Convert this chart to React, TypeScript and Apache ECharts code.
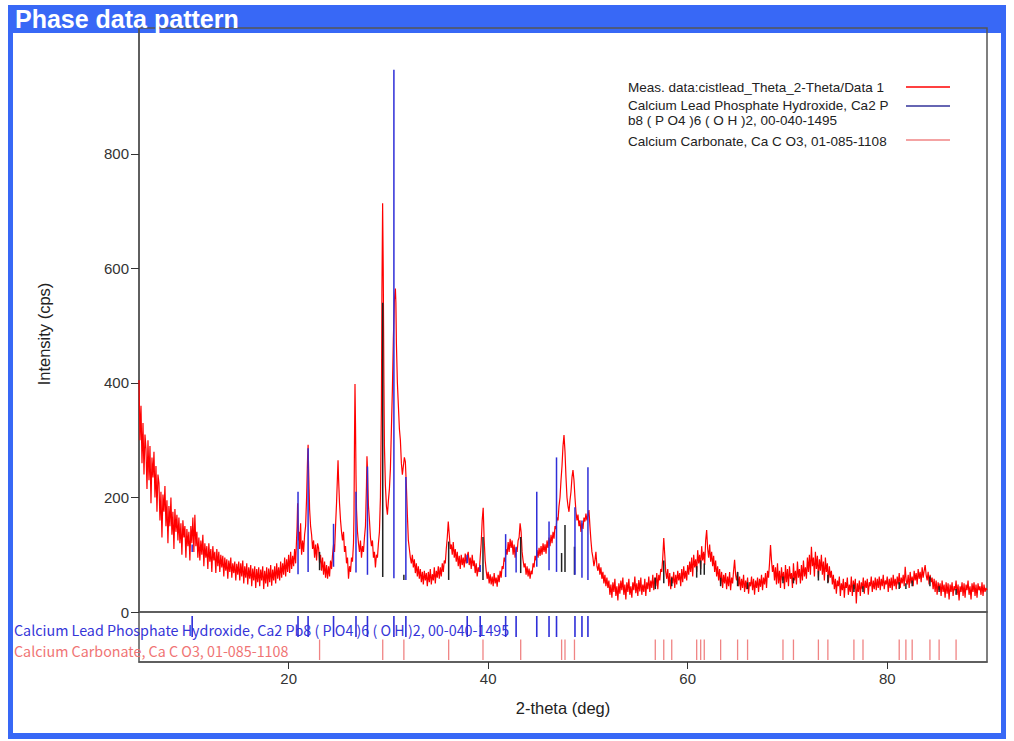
import React, { useEffect, useRef } from "react";
import * as echarts from "echarts";

const TITLE = "Phase data pattern";
const X_NAME = "2-theta (deg)";
const Y_NAME = "Intensity (cps)";
const X_MIN = 5;
const X_MAX = 90;
const Y_MAX = 1020;
const xTicks = [20, 40, 60, 80];
const yTicks = [0, 200, 400, 600, 800];

const legendMeas = "Meas. data:cistlead_Theta_2-Theta/Data 1";
const legendPhosphate = "Calcium Lead Phosphate Hydroxide, Ca2 P\nb8 ( P O4 )6 ( O H )2, 00-040-1495";
const legendCalcite = "Calcium Carbonate, Ca C O3, 01-085-1108";
const rowPhosphate = "Calcium Lead Phosphate Hydroxide, Ca2 Pb8 ( P O4 )6 ( O H )2, 00-040-1495";
const rowCalcite = "Calcium Carbonate, Ca C O3, 01-085-1108";

// measured scan, 0.1 deg step pieces: [start 2theta, counts...]
const SCAN_STEP = 0.1;
const scanLow: [number, number[]][] = [
  [5.0, [405, 300, 360, 260, 330, 240, 310, 285, 215, 300, 230, 290, 190, 270, 235, 280, 200, 255, 175, 240]],
  [7.0, [225, 160, 210, 130, 205, 175, 220, 150, 195, 120, 185, 150, 200, 135, 175, 110, 180, 140, 170, 125]],
  [9.0, [165, 120, 155, 100, 160, 130, 150, 95, 145, 115, 140, 90, 150, 120, 165, 105, 170, 115, 140, 95]],
  [11.0, [130, 90, 125, 100, 135, 80, 120, 95, 115, 75, 120, 88, 110, 70, 115, 90, 105, 68, 110, 80]],
  [13.0, [105, 70, 100, 78, 98, 62, 95, 72, 92, 58, 90, 70, 95, 60, 85, 68, 88, 55, 84, 65]],
  [15.0, [88, 55, 85, 62, 90, 50, 80, 60, 85, 48, 78, 58, 82, 45, 76, 55, 80, 42, 75, 52]],
  [17.0, [78, 45, 74, 55, 80, 40, 72, 50, 78, 44, 76, 52, 82, 46, 74, 55, 80, 50, 85, 58]],
  [19.0, [78, 55, 88, 60, 85, 65, 95, 62, 92, 70, 100, 68, 105, 75, 98, 80, 110, 85, 130]],
];
const scanPeaks = [
  [20.85, 150], [20.9, 190], [20.95, 160], [21.0, 125], [21.05, 140], [21.1, 110], [21.2, 155], [21.25, 120], [21.3, 100], [21.4, 125],
  [21.5, 105], [21.6, 135], [21.7, 150], [21.8, 200], [21.9, 270], [21.95, 292], [22.0, 250], [22.05, 215], [22.1, 180], [22.2, 150],
  [22.3, 135], [22.4, 110], [22.5, 125], [22.6, 95], [22.7, 118], [22.8, 90], [22.9, 120], [23.0, 112], [23.1, 85], [23.2, 100],
  [23.3, 72], [23.4, 95], [23.5, 65], [23.6, 88], [23.7, 60], [23.8, 82], [23.9, 58], [24.0, 80], [24.1, 62], [24.2, 90],
  [24.3, 75], [24.4, 100], [24.5, 118], [24.6, 105], [24.7, 150], [24.8, 190], [24.9, 240], [24.95, 265], [25.0, 235], [25.1, 190],
  [25.2, 160], [25.3, 140], [25.4, 125], [25.5, 140], [25.6, 105], [25.7, 115], [25.8, 85], [25.9, 95], [26.0, 58], [26.1, 80],
  [26.2, 70], [26.3, 95], [26.4, 88], [26.5, 120], [26.55, 170], [26.6, 300], [26.65, 398], [26.7, 330], [26.75, 240], [26.8, 180],
  [26.9, 140], [27.0, 120], [27.1, 105], [27.2, 125], [27.3, 95], [27.4, 115], [27.5, 105], [27.6, 130], [27.7, 150], [27.8, 220],
  [27.85, 272], [27.9, 250], [27.95, 215], [28.0, 185], [28.1, 160], [28.2, 130], [28.3, 115], [28.4, 125], [28.5, 95], [28.6, 105],
  [28.7, 78], [28.8, 100], [28.9, 95], [29.0, 120], [29.1, 140], [29.2, 200], [29.3, 360], [29.35, 560], [29.42, 714], [29.48, 600],
  [29.55, 400], [29.6, 290], [29.7, 220], [29.8, 185], [29.9, 170], [30.0, 195], [30.1, 215], [30.2, 250], [30.3, 320], [30.4, 390],
  [30.5, 480], [30.6, 545], [30.7, 565], [30.75, 540], [30.8, 470], [30.9, 400], [31.0, 360], [31.1, 320], [31.2, 300], [31.3, 260],
  [31.4, 240], [31.5, 255], [31.6, 270], [31.7, 262], [31.8, 220], [31.9, 170], [32.0, 125], [32.1, 110], [32.2, 95], [32.3, 85],
  [32.4, 100], [32.5, 78], [32.6, 92], [32.7, 68], [32.8, 85], [32.9, 62], [33.0, 80]
];
const scanMid: [number, number[]][] = [
  [33.1, [58, 75, 52, 70, 48, 72, 55, 68, 45, 70]],
  [34.1, [52, 75, 48, 66, 55, 78, 50, 72, 60, 80]],
  [35.1, [58, 78, 62, 85, 70, 90, 85, 110, 130, 158]],
  [36.1, [135, 110, 118, 100, 122, 95, 110, 88, 105, 80]],
  [37.1, [98, 75, 100, 82, 95, 78, 102, 85, 98, 105]],
  [38.1, [82, 95, 75, 100, 80, 90, 68, 85, 62, 78]],
  [39.1, [70, 95, 120, 160, 182, 125, 90, 72, 58, 70]],
  [40.1, [50, 66, 48, 62, 45, 68, 50, 60, 44, 65]],
  [41.1, [52, 72, 60, 80, 75, 95, 88, 110, 100, 122]],
  [42.1, [105, 128, 112, 125, 100, 118, 95, 112, 105, 125]],
  [43.1, [130, 155, 140, 105, 90, 78, 85, 65, 80, 62]],
  [44.1, [76, 58, 72, 66, 85, 78, 98, 90, 108, 95]],
  [45.1, [112, 98, 115, 100, 120, 105, 118, 102, 125, 112]],
  [46.1, [130, 115, 135, 120, 140, 128, 150, 145, 165, 160]],
  [47.1, [185, 200, 230, 255, 290, 309, 280, 235, 200, 185]],
  [48.1, [175, 195, 210, 235, 248, 230, 200, 175, 160, 170]],
  [49.1, [150, 160, 140, 155, 145, 165, 158, 172, 160, 168]],
  [50.1, [178, 150, 125, 105, 95, 80, 90, 105, 80, 72]],
  [51.1, [85, 65, 78, 58, 70, 50, 65, 45, 60, 42]],
];
const scanHigh: [number, number[]][] = [
  [52.1, [55, 30, 48, 25, 52, 35, 58, 28, 45, 20, 50, 32, 55, 38, 60, 30, 48, 22, 52, 35, 58, 30, 45, 25, 52]],
  [54.6, [38, 62, 33, 50, 28, 56, 36, 60, 30, 48, 35, 58, 28, 52, 40, 62, 35, 55, 42, 65, 38, 60, 45, 68, 40]],
  [57.1, [65, 55, 75, 70, 95, 129, 100, 70, 58, 75]],
  [58.1, [45, 68, 40, 62, 50, 70, 42, 65, 48, 72, 55, 68, 45, 75, 52, 80, 58, 72, 55, 82]],
  [60.1, [65, 88, 70, 95, 62, 100, 78, 92, 70, 108, 85, 100, 75, 115, 90, 105, 82, 125, 143, 110, 95, 118, 88, 105, 80]],
  [62.6, [98, 70, 90, 62, 80, 55, 75, 48, 70, 42, 65, 50, 68, 40, 62, 45, 70, 38, 60, 50]],
  [64.6, [72, 91, 65, 55, 70]],
  [65.1, [45, 62, 38, 58, 42, 65, 35, 55, 40, 60, 32, 52, 45, 62, 38, 58, 30, 55, 42, 60, 35, 58, 44, 65, 38, 60, 48, 68, 42, 72]],
  [68.1, [60, 85, 117, 90, 70, 82, 55, 78]],
  [68.9, [48, 85, 50, 72, 42, 78, 55, 70, 40, 82, 52, 75, 45, 80, 58, 68, 42, 85, 55, 72, 48, 88, 60, 75, 50, 82, 55, 90, 62, 78, 58, 95]],
  [72.1, [70, 100, 65, 114, 80, 95, 62, 105, 75, 98, 60, 92, 72, 100, 65, 88, 55, 95, 70, 85, 52, 80, 60, 72, 48]],
  [74.6, [65, 40, 58, 32, 55, 45, 62, 28, 50, 38, 58, 25, 52, 42, 60, 30, 48, 35, 62, 28, 55, 40, 58, 15, 50]],
  [77.1, [35, 55, 28, 52, 40, 60, 32, 55, 42, 58, 30, 52, 45, 62, 35, 55, 40, 60, 38, 58]],
  [79.1, [42, 62, 38, 58, 45, 65, 40, 55, 48, 62, 35, 58, 42, 60, 38, 65, 45, 58, 40, 62, 48, 68, 42, 60, 50, 65, 45, 79, 55, 48]],
  [82.1, [65, 42, 70, 50, 62, 45, 72, 55, 68, 48, 75, 58, 70, 52, 78, 60, 72, 82, 65, 55, 70, 48, 65, 52, 60]],
  [84.6, [40, 58, 35, 55, 30, 52, 38, 50, 28, 55, 35, 48, 25, 52, 32, 50, 22, 48, 35, 52, 28, 45, 38, 55, 30]],
  [87.1, [48, 20, 45, 35, 52, 28, 50, 25, 48, 38, 55, 30, 45, 22, 50, 35, 52, 28, 48, 25, 50, 38, 45, 30, 52, 28, 48, 35, 42, 38]],
];

// Calcium Lead Phosphate Hydroxide reference lines
const phosphateTheta = [10.33, 20.94, 21.95, 24.5, 26.75, 27.9, 30.55, 31.75, 37.9, 39.2, 41.75, 42.8, 44.87, 46.1, 46.85, 48.7, 49.4, 50.0];
const phosphateBase = [105, 66, 70, 79, 69, 65, 59, 56, 85, 70, 61, 69, 79, 73, 70, 65, 60, 56];
const phosphateTop = [118, 210, 286, 154, 210, 254, 947, 236, 100, 82, 136, 114, 210, 158, 270, 183, 160, 253];

// Calcium Carbonate reference lines
const calciteTheta = [23.1, 29.43, 31.55, 36.04, 39.48, 43.26, 47.36, 47.7, 48.65, 56.75, 57.6, 58.4, 60.9, 61.3, 61.66, 63.3, 65.0, 66.0, 69.55, 70.6, 73.1, 74.05, 76.66, 77.57, 81.2, 81.87, 82.5, 84.28, 85.2, 86.9];
const calciteBase = [73, 61, 56, 56, 56, 68, 70, 70, 65, 40, 50, 45, 60, 65, 65, 45, 45, 40, 50, 50, 55, 50, 35, 35, 40, 40, 45, 45, 35, 30];
const calciteTop = [105, 540, 65, 123, 131, 131, 103, 152, 114, 60, 90, 60, 80, 90, 85, 60, 70, 52, 62, 60, 72, 65, 48, 45, 52, 50, 55, 62, 45, 40];

const FONT = "'Liberation Sans', Arial, sans-serif";
const RED = "#ff0000";
const BLUE = "#2e2ed8";
const NAVY = "#33339a";
const PINK = "#f08484";
const DARK = "#222222";

function expand(pieces: [number, number[]][]) {
  const out: number[][] = [];
  pieces.forEach(([start, ys]) => {
    ys.forEach((y, i) => out.push([Math.round((start + i * SCAN_STEP) * 100) / 100, y]));
  });
  return out;
}

function stickRender(color: string, width: number) {
  return (params: any, api: any) => {
    const x = api.value(0);
    const p1 = api.coord([x, api.value(1)]);
    const p2 = api.coord([x, api.value(2)]);
    return {
      type: "line",
      shape: { x1: p1[0], y1: p1[1], x2: p2[0], y2: p2[1] },
      style: { stroke: color, lineWidth: width },
    };
  };
}

export default function App() {
  const ref = useRef<HTMLDivElement>(null);
  useEffect(() => {
    if (!ref.current) return;
    const chart = echarts.init(ref.current, null, { renderer: "svg" });
    const measured = [...expand(scanLow), ...scanPeaks, ...expand(scanMid), ...expand(scanHigh)];
    const phosData = phosphateTheta.map((t, i) => [t, phosphateBase[i], phosphateTop[i]]);
    const calData = calciteTheta.map((t, i) => [t, calciteBase[i], calciteTop[i]]);
    const phosRow = phosphateTheta.map((t) => [t, 1.0, 1.84]);
    const calRow = calciteTheta.map((t) => [t, 0.08, 0.9]);

    const legendText = (text: string, y: number) => ({
      type: "text",
      x: 628,
      y,
      z: 10,
      style: { text, font: `13.5px ${FONT}`, fill: "#222", textVerticalAlign: "middle", verticalAlign: "middle", lineHeight: 15 },
    });
    const legendLine = (y: number, color: string) => ({
      type: "line",
      z: 10,
      shape: { x1: 906, y1: y, x2: 950, y2: y },
      style: { stroke: color, lineWidth: 1.3 },
    });

    chart.setOption({
      animation: false,
      backgroundColor: "#ffffff",
      graphic: [
        { type: "rect", z: -10, silent: true, shape: { x: 8, y: 5, width: 998, height: 734 }, style: { fill: "#3868f6" } },
        { type: "rect", z: -9, silent: true, shape: { x: 13, y: 33, width: 988, height: 700 }, style: { fill: "#ffffff" } },
        {
          type: "text", x: 15, y: 19, z: 10,
          style: { text: TITLE, font: `bold 25px ${FONT}`, fill: "#ffffff", textVerticalAlign: "middle", verticalAlign: "middle" },
        },
        {
          type: "text", x: 44, y: 334, rotation: Math.PI / 2, z: 10,
          style: { text: Y_NAME, font: `16.5px ${FONT}`, fill: "#222", textAlign: "center", align: "center", textVerticalAlign: "middle", verticalAlign: "middle" },
        },
        legendText(legendMeas, 87),
        legendText(legendPhosphate, 113),
        legendText(legendCalcite, 141),
        legendLine(87, RED),
        legendLine(106, NAVY),
        legendLine(140, PINK),
        {
          type: "text", x: 14, y: 629, z: 1,
          style: { text: rowPhosphate, font: `14.3px 'Noto Sans CJK JP', sans-serif`, fill: "#3535d8", textVerticalAlign: "middle", verticalAlign: "middle" },
        },
        {
          type: "text", x: 14, y: 650, z: 1,
          style: { text: rowCalcite, font: `14.3px 'Noto Sans CJK JP', sans-serif`, fill: "#f07474", textVerticalAlign: "middle", verticalAlign: "middle" },
        },
      ],
      grid: [
        { left: 139, top: 28, width: 848, height: 584, show: true, borderColor: "#555", borderWidth: 1.5, backgroundColor: "transparent" },
        { left: 139, top: 612, width: 848, height: 50, show: true, borderColor: "#555", borderWidth: 1.5, backgroundColor: "transparent" },
      ],
      xAxis: [
        {
          type: "value", gridIndex: 0, min: X_MIN, max: X_MAX,
          axisLine: { show: false }, axisTick: { show: false }, axisLabel: { show: false }, splitLine: { show: false },
        },
        {
          type: "value", gridIndex: 1, min: X_MIN, max: X_MAX,
          axisLine: { show: true, lineStyle: { color: "#555", width: 1.5 } },
          axisTick: { show: true, customValues: xTicks, length: 7, lineStyle: { color: "#333" } },
          axisLabel: { customValues: xTicks, fontSize: 15, color: "#333", fontFamily: FONT, margin: 9 },
          splitLine: { show: false },
          name: X_NAME, nameLocation: "middle", nameGap: 37,
          nameTextStyle: { fontSize: 16.5, color: "#222", fontFamily: FONT },
        },
      ],
      yAxis: [
        {
          type: "value", gridIndex: 0, min: 0, max: Y_MAX,
          axisLine: { show: true, lineStyle: { color: "#555", width: 1.5 } },
          axisTick: { show: true, customValues: yTicks, length: 8, lineStyle: { color: "#333" } },
          axisLabel: { customValues: yTicks, fontSize: 15, color: "#333", fontFamily: FONT, margin: 10 },
          splitLine: { show: false },
        },
        { type: "value", gridIndex: 1, min: 0, max: 2, show: false },
      ],
      series: [
        {
          type: "line", xAxisIndex: 0, yAxisIndex: 0, data: measured, symbol: "none",
          lineStyle: { color: RED, width: 1.2 }, z: 2, clip: true,
        },
        {
          type: "custom", xAxisIndex: 0, yAxisIndex: 0, data: calData, z: 3,
          renderItem: stickRender(DARK, 1.5), encode: { x: 0, y: [1, 2] },
        },
        {
          type: "custom", xAxisIndex: 0, yAxisIndex: 0, data: phosData, z: 4,
          renderItem: stickRender(BLUE, 1.5), encode: { x: 0, y: [1, 2] },
        },
        {
          type: "custom", xAxisIndex: 1, yAxisIndex: 1, data: phosRow, z: 4,
          renderItem: stickRender(BLUE, 1.6), encode: { x: 0, y: [1, 2] },
        },
        {
          type: "custom", xAxisIndex: 1, yAxisIndex: 1, data: calRow, z: 4,
          renderItem: stickRender(PINK, 1.3), encode: { x: 0, y: [1, 2] },
        },
      ],
    });
    return () => chart.dispose();
  }, []);
  return <div ref={ref} style={{ position: "absolute", left: 0, top: 0, width: 1014, height: 741 }} />;
}
